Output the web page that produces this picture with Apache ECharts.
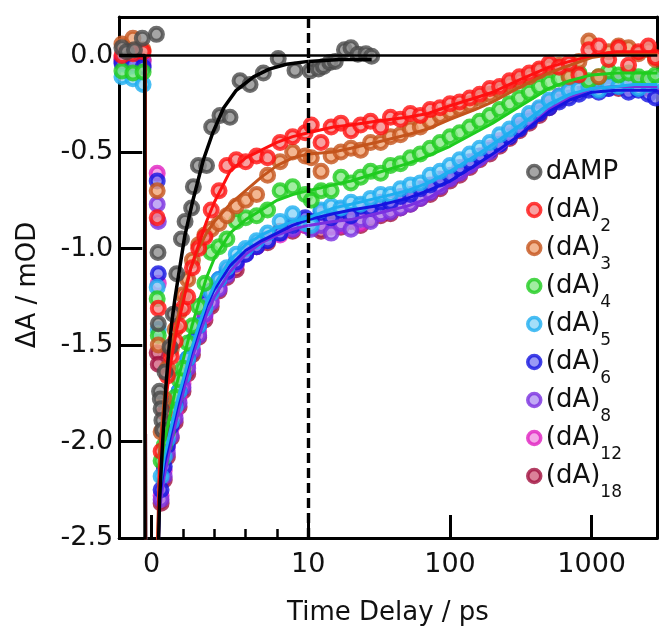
<!DOCTYPE html>
<html><head><meta charset="utf-8">
<script src="https://cdn.jsdelivr.net/npm/echarts@6/dist/echarts.min.js"></script>
<style>html,body{margin:0;padding:0;background:#fff}#c{width:659px;height:630px}</style>
</head><body><div id="c"></div>
<script>
// ---- time grids (ps) ----
const T_L = [-1.9, -1.2, -0.55, 0.35, 0.42, 0.6, 0.8, 1.0, 1.25, 1.5, 1.75, 2.0, 2.3, 2.6, 3.0, 3.4, 3.8, 4.3, 4.8, 5.4, 6.0, 6.7, 7.4, 8.2, 9.0, 9.8];
const T_R = [10.5, 12.3, 14.5, 17.0, 20.0, 23.4, 27.5, 32.4, 38.0, 44.7, 52.5, 61.7, 72.4, 85.1, 100, 117, 138, 162, 191, 224, 263, 309, 363, 427, 501, 589, 692, 813, 955, 1122, 1318, 1549, 1820, 2138, 2512, 2818];

// ---- series names ----
const NAMES = ['dAMP', '(dA)2', '(dA)3', '(dA)4', '(dA)5', '(dA)6', '(dA)8', '(dA)12', '(dA)18'];

// ---- dAMP data ----
const dAMP_T = [-1.9, -1.6, -1.1, -0.6, 0.3, 0.4, 0.42, 0.5, 0.55, 0.6, 0.65, 0.7, 0.85, 1.17, 1.38, 1.6, 1.9, 2.13, 2.55, 2.66, 2.98, 3.5, 3.83, 4.36, 5.0, 5.64, 6.28, 7.13, 8.08, 9.15, 10.3, 11.8, 12.8, 14.2, 15.5, 18, 20, 22.4, 25.5, 28];
const dAMP_V = [0.04, 0.02, 0.03, 0.09, 0.11, -1.02, -1.39, -1.74, -1.78, -1.83, -1.89, -1.94, -1.64, -1.51, -1.34, -1.13, -0.95, -0.86, -0.79, -0.68, -0.57, -0.57, -0.37, -0.31, -0.32, -0.13, -0.15, -0.09, -0.015, -0.076, -0.08, -0.07, -0.057, -0.036, -0.03, 0.03, 0.04, 0.007, 0.01, -0.003];

// ---- oligo data, early (T_L) ----
const dA2_L  = [0.00, 0.01, 0.02, -0.84, -1.31, -2.05, -1.85, -1.66, -1.56, -1.48, -1.40, -1.31, -1.25, -1.10, -1.00, -0.94, -0.80, -0.70, -0.57, -0.54, -0.55, -0.52, -0.53, -0.45, -0.42, -0.40];
const dA3_L  = [0.06, 0.09, 0.03, -0.70, -1.50, -1.95, -1.78, -1.62, -1.52, -1.42, -1.33, -1.24, -1.16, -1.06, -0.98, -0.93, -0.90, -0.87, -0.83, -0.78, -0.75, -0.72, -0.62, -0.55, -0.50, -0.52];
const dA4_L  = [-0.08, -0.09, -0.085, -1.26, -1.45, -2.10, -2.02, -1.95, -1.85, -1.77, -1.68, -1.62, -1.49, -1.40, -1.30, -1.18, -1.02, -0.99, -0.95, -0.86, -0.84, -0.83, -0.80, -0.70, -0.68, -0.72];
const dA5_L  = [-0.11, -0.12, -0.15, -1.20, -1.42, -2.18, -2.08, -1.99, -1.90, -1.82, -1.74, -1.66, -1.57, -1.49, -1.40, -1.31, -1.23, -1.16, -1.10, -1.03, -1.00, -0.96, -0.92, -0.86, -0.82, -0.87];
const dA6_L  = [-0.04, -0.05, -0.06, -0.65, -1.13, -2.25, -2.13, -2.02, -1.92, -1.80, -1.74, -1.66, -1.57, -1.48, -1.40, -1.28, -1.22, -1.16, -1.12, -1.07, -1.03, -0.99, -0.96, -0.92, -0.88, -0.84];
const dA8_L  = [-0.03, -0.03, -0.05, -0.77, -0.86, -2.30, -2.18, -2.06, -1.97, -1.88, -1.80, -1.72, -1.62, -1.53, -1.45, -1.34, -1.28, -1.21, -1.14, -1.08, -1.03, -0.98, -0.95, -0.92, -0.90, -0.86];
const dA12_L = [-0.01, -0.02, -0.03, -0.61, -1.18, -2.28, -2.15, -2.03, -1.93, -1.85, -1.77, -1.70, -1.60, -1.52, -1.43, -1.35, -1.27, -1.20, -1.13, -1.08, -1.02, -0.99, -0.95, -0.93, -0.90, -0.88];
const dA18_L = [-0.02, -0.01, -0.02, -1.54, -1.60, -2.32, -2.20, -2.08, -1.98, -1.90, -1.82, -1.74, -1.65, -1.55, -1.46, -1.37, -1.30, -1.22, -1.15, -1.11, -1.02, -0.99, -0.97, -0.91, -0.91, -0.88];

// ---- oligo data, late (T_R) ----
const dA2_R  = [-0.36, -0.45, -0.37, -0.35, -0.39, -0.36, -0.34, -0.37, -0.32, -0.33, -0.30, -0.31, -0.28, -0.27, -0.25, -0.24, -0.22, -0.20, -0.17, -0.16, -0.13, -0.11, -0.09, -0.07, -0.04, -0.06, -0.04, -0.10, 0.03, 0.05, -0.02, 0.04, -0.05, 0.02, 0.05, -0.01];
const dA3_R  = [-0.53, -0.60, -0.52, -0.50, -0.48, -0.49, -0.45, -0.45, -0.42, -0.41, -0.38, -0.37, -0.34, -0.31, -0.29, -0.27, -0.25, -0.22, -0.20, -0.18, -0.15, -0.13, -0.11, -0.08, -0.06, -0.05, -0.11, -0.03, 0.075, -0.11, 0.02, 0.05, 0.04, 0.01, 0.03, -0.02];
const dA4_R  = [-0.75, -0.70, -0.70, -0.63, -0.66, -0.63, -0.60, -0.61, -0.57, -0.56, -0.53, -0.51, -0.48, -0.45, -0.42, -0.40, -0.37, -0.34, -0.31, -0.28, -0.25, -0.22, -0.19, -0.16, -0.14, -0.12, -0.10, -0.09, -0.13, -0.11, -0.08, -0.10, -0.09, -0.11, -0.12, -0.10];
const dA5_R  = [-0.88, -0.80, -0.78, -0.79, -0.76, -0.77, -0.74, -0.72, -0.72, -0.69, -0.67, -0.66, -0.62, -0.60, -0.57, -0.54, -0.51, -0.48, -0.45, -0.41, -0.38, -0.34, -0.30, -0.27, -0.23, -0.21, -0.18, -0.17, -0.16, -0.18, -0.15, -0.16, -0.14, -0.17, -0.15, -0.13];
const dA6_R  = [-0.86, -0.81, -0.84, -0.80, -0.83, -0.78, -0.79, -0.76, -0.76, -0.73, -0.72, -0.69, -0.67, -0.64, -0.62, -0.58, -0.55, -0.52, -0.49, -0.46, -0.42, -0.38, -0.34, -0.30, -0.27, -0.24, -0.22, -0.20, -0.18, -0.19, -0.17, -0.16, -0.19, -0.18, -0.20, -0.22];
const dA8_R  = [-0.90, -0.88, -0.92, -0.87, -0.90, -0.85, -0.86, -0.82, -0.81, -0.79, -0.77, -0.74, -0.71, -0.68, -0.64, -0.61, -0.57, -0.53, -0.50, -0.46, -0.41, -0.37, -0.33, -0.29, -0.25, -0.22, -0.19, -0.17, -0.16, -0.15, -0.17, -0.14, -0.17, -0.16, -0.14, -0.15];
const dA12_R = [-0.88, -0.86, -0.89, -0.88, -0.85, -0.87, -0.83, -0.82, -0.79, -0.78, -0.75, -0.73, -0.70, -0.66, -0.63, -0.60, -0.56, -0.52, -0.48, -0.44, -0.40, -0.36, -0.32, -0.28, -0.24, -0.21, -0.18, -0.16, -0.15, -0.14, -0.16, -0.13, -0.15, -0.14, -0.16, -0.15];
const dA18_R = [-0.89, -0.91, -0.87, -0.89, -0.86, -0.88, -0.85, -0.83, -0.82, -0.79, -0.77, -0.74, -0.72, -0.69, -0.65, -0.62, -0.58, -0.54, -0.51, -0.47, -0.43, -0.39, -0.35, -0.31, -0.27, -0.23, -0.20, -0.18, -0.16, -0.16, -0.15, -0.17, -0.16, -0.15, -0.17, -0.14];

// ---- fit curves ----
const FIT_TL = [-2.07, -0.42, -0.38, 0.25, 0.5, 0.8, 1.2, 1.6, 2.0, 2.5, 3.0, 3.5, 4.0, 5.0, 6.0, 7.0, 8.0, 9.0, 10];
const FIT_TR = [10, 15, 20, 30, 50, 70, 100, 150, 200, 300, 500, 700, 1000, 1500, 2000, 2904];
const fit2_L = [0, 0, -3, -3, -2.15, -1.85, -1.6, -1.42, -1.28, -1.1, -0.98, -0.86, -0.76, -0.6, -0.53, -0.49, -0.45, -0.42, -0.40];
const fit2_R = [-0.40, -0.37, -0.36, -0.34, -0.32, -0.30, -0.26, -0.22, -0.19, -0.13, -0.06, -0.03, 0.0, 0.02, 0.02, 0.02];
const fit3_L = [0, 0, -3, -3, -2.05, -1.78, -1.55, -1.38, -1.24, -1.10, -1.0, -0.92, -0.86, -0.77, -0.70, -0.63, -0.57, -0.53, -0.51];
const fit3_R = [-0.51, -0.50, -0.48, -0.45, -0.41, -0.38, -0.33, -0.28, -0.24, -0.17, -0.09, -0.05, -0.01, 0.01, 0.01, 0.01];
const fit4_L = [0, 0, -3, -3, -2.2, -2.0, -1.85, -1.7, -1.58, -1.42, -1.28, -1.15, -1.05, -0.92, -0.85, -0.80, -0.75, -0.72, -0.70];
const fit4_R = [-0.70, -0.67, -0.65, -0.61, -0.56, -0.52, -0.47, -0.40, -0.35, -0.27, -0.17, -0.13, -0.10, -0.09, -0.09, -0.09];
const fit5_L = [0, 0, -3, -3, -2.25, -2.08, -1.94, -1.8, -1.68, -1.53, -1.40, -1.28, -1.19, -1.06, -0.98, -0.93, -0.89, -0.86, -0.84];
const fit5_R = [-0.84, -0.79, -0.77, -0.74, -0.70, -0.66, -0.60, -0.52, -0.46, -0.37, -0.25, -0.20, -0.17, -0.16, -0.15, -0.15];
const fit6_L = [0, 0, -3, -3, -2.3, -2.12, -1.97, -1.83, -1.70, -1.55, -1.42, -1.30, -1.21, -1.09, -1.01, -0.96, -0.92, -0.88, -0.85];
const fit6_R = [-0.85, -0.82, -0.80, -0.78, -0.74, -0.70, -0.65, -0.57, -0.51, -0.42, -0.29, -0.23, -0.19, -0.18, -0.18, -0.18];
const fit8_L = [0, 0, -3, -3, -2.35, -2.18, -2.02, -1.88, -1.75, -1.59, -1.46, -1.34, -1.25, -1.12, -1.03, -0.97, -0.93, -0.90, -0.88];
const fit8_R = [-0.88, -0.86, -0.85, -0.82, -0.78, -0.74, -0.67, -0.59, -0.52, -0.42, -0.28, -0.22, -0.17, -0.16, -0.16, -0.16];
const fitD_TL = [-2.07, -0.45, -0.42, 0.3, 0.5, 0.7, 0.9, 1.1, 1.3, 1.5, 1.75, 2.1, 2.6, 3.3, 3.9, 4.6, 5.4, 6.5, 7.5, 8.6, 10];
const fitD_VL = [0, 0, -3, -3, -2.3, -2.0, -1.72, -1.52, -1.37, -1.25, -1.12, -0.94, -0.76, -0.54, -0.40, -0.27, -0.18, -0.11, -0.07, -0.045, -0.03];
const fitD_TR = [10, 16.7, 28];
const fitD_VR = [-0.03, -0.02, -0.02];

// ---- axis ticks / labels ----
const X_LIN_MINOR = [2, 4, 6, 8];
const X_LIN_MAJOR = [0, 10];
const X_LOG_MAJOR = [100, 1000];
const Y_TICKS = [-2.5, -2.0, -1.5, -1.0, -0.5, 0.0];

// ---- styling ----
const EDGE = ['#4a4a4a', '#ff1010', '#c4541c', '#1fcc1f', '#1eaef0', '#1414e0', '#7a30e0', '#e020c0', '#a0103e'];
const FILL = ['#8e8e8e', '#f58a8a', '#f0a476', '#8ae88a', '#8ed6f8', '#8080f2', '#b294f2', '#f292e2', '#d2627f'];
const FONT = 'DejaVu Sans';
const TXT = '#111';

const pair = (T, V) => T.map((t, i) => [t, V[i]]);

const LEFT = [dA2_L, dA3_L, dA4_L, dA5_L, dA6_L, dA8_L, dA12_L, dA18_L];
const RIGHT = [dA2_R, dA3_R, dA4_R, dA5_R, dA6_R, dA8_R, dA12_R, dA18_R];
const FITS = {1: [fit2_L, fit2_R], 2: [fit3_L, fit3_R], 3: [fit4_L, fit4_R], 4: [fit5_L, fit5_R], 5: [fit6_L, fit6_R], 6: [fit8_L, fit8_R]};

function scatter(name, gi, data, k) {
  return {
    type: 'scatter', name: name, xAxisIndex: gi === 0 ? 1 : 3, yAxisIndex: gi, data: data,
    symbol: 'circle', symbolSize: 13, silent: true,
    itemStyle: { color: FILL[k], borderColor: EDGE[k], borderWidth: 4 }
  };
}
function fitLine(name, gi, data, color, w) {
  return {
    type: 'line', name: name, xAxisIndex: gi === 0 ? 1 : 3, yAxisIndex: gi, data: data,
    symbol: 'none', showSymbol: false, silent: true, clip: true,
    lineStyle: { color: color, width: w }
  };
}

const series = [];
for (let k = 8; k >= 1; k--) {
  const nm = NAMES[k];
  if (FITS[k]) {
    series.push(fitLine('fit ' + nm, 0, pair(FIT_TL, FITS[k][0]), EDGE[k], 3));
    series.push(fitLine('fit ' + nm, 1, pair(FIT_TR, FITS[k][1]), EDGE[k], 3));
  }
  series.push(scatter(nm, 0, pair(T_L, LEFT[k - 1]), k));
  series.push(scatter(nm, 1, pair(T_R, RIGHT[k - 1]), k));
}
const dAMP_all = pair(dAMP_T, dAMP_V);
series.push(scatter('dAMP', 0, dAMP_all.filter(p => p[0] <= 10), 0));
series.push(scatter('dAMP', 1, dAMP_all.filter(p => p[0] > 10), 0));
series.push(fitLine('fit dAMP', 0, pair(fitD_TL, fitD_VL), '#000', 3.5));
series.push(fitLine('fit dAMP', 1, pair(fitD_TR, fitD_VR), '#000', 3.5));

series[0].markLine = {
  silent: true, symbol: 'none', label: { show: false }, animation: false,
  lineStyle: { color: '#000', width: 2.7, type: 'solid' },
  data: [{ yAxis: 0 }, { xAxis: 10, lineStyle: { color: '#000', width: 3.4, type: [10, 5] } }]
};
series[1].markLine = {
  silent: true, symbol: 'none', label: { show: false }, animation: false,
  lineStyle: { color: '#000', width: 2.7, type: 'solid' },
  data: [{ yAxis: 0 }]
};

const lineAx = { show: true, onZero: false, lineStyle: { color: '#000', width: 3 } };
const labelTxt = { fontFamily: FONT, fontSize: 27, color: TXT };

const option = {
  animation: false,
  backgroundColor: '#fff',
  grid: [
    { left: 119.3, top: 17, width: 189, height: 521 },
    { left: 308.3, top: 17, width: 349, height: 521 }
  ],
  xAxis: [
    { gridIndex: 0, type: 'value', min: -2.07, max: 10, position: 'bottom',
      axisLine: lineAx, splitLine: { show: false },
      axisTick: { show: true, inside: true, length: 9, lineStyle: { color: '#000', width: 2.5 }, customValues: X_LIN_MINOR },
      axisLabel: { show: false } },
    { gridIndex: 0, type: 'value', min: -2.07, max: 10, position: 'bottom',
      axisLine: lineAx, splitLine: { show: false },
      axisTick: { show: true, inside: true, length: 23, lineStyle: { color: '#000', width: 3 }, customValues: X_LIN_MAJOR },
      axisLabel: Object.assign({ show: true, margin: 13, customValues: X_LIN_MAJOR, formatter: v => String(v) }, labelTxt) },
    { gridIndex: 0, type: 'value', min: -2.07, max: 10, position: 'top',
      axisLine: lineAx, axisTick: { show: false }, axisLabel: { show: false }, splitLine: { show: false } },
    { gridIndex: 1, type: 'log', logBase: 10, min: 10, max: 2904, position: 'bottom',
      axisLine: lineAx, splitLine: { show: false }, minorTick: { show: false },
      axisTick: { show: true, inside: true, length: 23, lineStyle: { color: '#000', width: 3 }, customValues: X_LOG_MAJOR },
      axisLabel: Object.assign({ show: true, margin: 13, customValues: X_LOG_MAJOR, formatter: v => String(Math.round(v)) }, labelTxt) },
    { gridIndex: 1, type: 'log', logBase: 10, min: 10, max: 2904, position: 'top',
      axisLine: lineAx, axisTick: { show: false }, axisLabel: { show: false }, splitLine: { show: false } }
  ],
  yAxis: [
    { gridIndex: 0, type: 'value', min: -2.5, max: 0.2, position: 'left',
      axisLine: lineAx, splitLine: { show: false },
      axisTick: { show: true, inside: true, length: 23, lineStyle: { color: '#000', width: 3 }, customValues: Y_TICKS },
      axisLabel: Object.assign({ show: true, margin: 6, customValues: Y_TICKS, formatter: v => Number(v).toFixed(1) }, labelTxt) },
    { gridIndex: 1, type: 'value', min: -2.5, max: 0.2, position: 'right',
      axisLine: lineAx, axisTick: { show: false }, axisLabel: { show: false }, splitLine: { show: false } }
  ],
  legend: {
    orient: 'vertical', left: 526, top: 147, padding: 0,
    itemWidth: 13, itemHeight: 13, itemGap: -12, selectedMode: false,
    data: NAMES.map((n, i) => ({ name: n, icon: 'circle',
      itemStyle: { color: FILL[i], borderColor: EDGE[i], borderWidth: 3.5 } })),
    formatter: function (name) {
      if (name === 'dAMP') return '{m|dAMP}';
      return '{m|(dA)}{s|' + name.slice(4) + '}';
    },
    textStyle: {
      fontFamily: FONT, color: TXT, backgroundColor: 'rgba(255,255,255,0)',
      rich: {
        m: { fontFamily: FONT, fontSize: 26, lineHeight: 50, color: TXT },
        s: { fontFamily: FONT, fontSize: 17, lineHeight: 17, verticalAlign: 'bottom', color: TXT }
      }
    }
  },
  graphic: [
    { type: 'text', x: 388, y: 613, silent: true,
      style: { text: 'Time Delay / ps', fontFamily: FONT, fontSize: 26, fill: TXT, align: 'center', verticalAlign: 'middle' } },
    { type: 'text', x: 28, y: 285, rotation: Math.PI / 2, silent: true,
      style: { text: 'ΔA / mOD', fontFamily: FONT, fontSize: 26, fill: TXT, align: 'center', verticalAlign: 'middle' } }
  ],
  series: series
};

const chart = echarts.init(document.getElementById('c'), null, { renderer: 'canvas' });
chart.setOption(option);
</script>
</body></html>
